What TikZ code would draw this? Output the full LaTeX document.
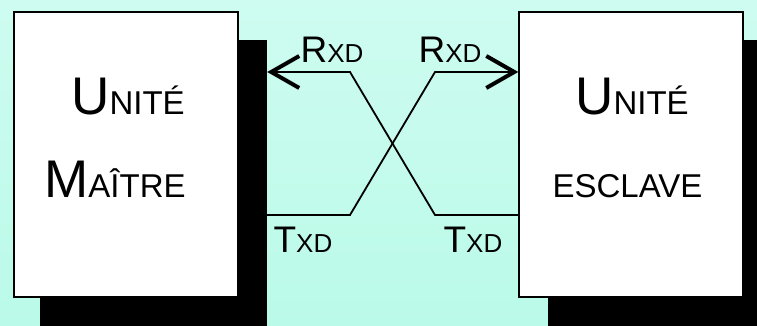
\documentclass[tikz,border=0pt]{standalone}
\usepackage{fontspec}
\setmainfont{Liberation Sans}
\usetikzlibrary{arrows.meta}
\definecolor{menthehaut}{RGB}{206,252,240}
\definecolor{menthebas}{RGB}{186,250,232}
\newcommand\grandpetit[2]{{\fontsize{53}{53}\selectfont #1}{\fontsize{33}{33}\selectfont #2}}
\newcommand\signal[2]{{\fontsize{37}{37}\selectfont #1}{\fontsize{26}{26}\selectfont #2}}
\begin{document}
\begin{tikzpicture}[x=1pt,y=1pt,
    unite/.style={rectangle,draw,fill=white,line width=1.4pt,minimum width=224pt,minimum height=285pt,inner sep=0pt},
    ombre/.style={rectangle,fill=black,minimum width=227pt,minimum height=286pt,inner sep=0pt},
    txt/.style={anchor=base,inner sep=0pt},
    fleche/.style={line width=1.8pt,-{Straight Barb[length=28pt,width=32pt,line width'=4pt]}}]
        \shade[top color=menthehaut,bottom color=menthebas] (0,0) rectangle (757,326);
        \useasboundingbox (0,0) rectangle (757,326);
        \clip (0,0) rectangle (757,326);

        \node[ombre] (ombreM) at (153.5,143) {};
        \node[ombre] (ombreE) at (661,143) {};
        \node[unite] (maitre) at (126,171.5) {};
        \node[unite] (esclave) at (631,171.5) {};

        \node[txt] (uniteM) at (128,211) {\grandpetit{U}{NITÉ}};
        \node[txt] (nomM) at (115,128) {\grandpetit{M}{AÎTRE}};
        \node[txt] (uniteE) at (632,211) {\grandpetit{U}{NITÉ}};
        \node[txt] (nomE) at (627.5,128) {\grandpetit{}{ESCLAVE}};

        \coordinate (rg) at (350,254);
        \coordinate (rd) at (435,254);
        \coordinate (tg) at (350,111);
        \coordinate (td) at (435,111);

        \draw[fleche] (esclave.west |- td) -- (td) -- (rg) -- (ombreM.east |- rg);
        \draw[fleche] (ombreM.east |- tg) -- (tg) -- (rd) -- (esclave.west |- rd);

        \node[txt] (rxdM) at (332,263) {\signal{R}{XD}};
        \node[txt] (rxdE) at (450,263) {\signal{R}{XD}};
        \node[txt] (txdM) at (303,73) {\signal{T}{XD}};
        \node[txt] (txdE) at (473,73) {\signal{T}{XD}};
    \end{tikzpicture}
\end{document}
